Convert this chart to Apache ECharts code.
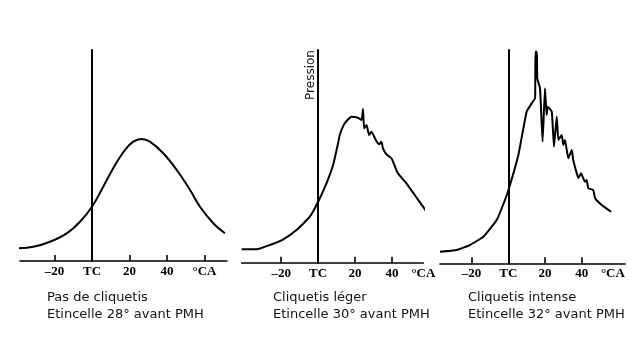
<!DOCTYPE html>
<html>
<head>
<meta charset="utf-8">
<script src="https://cdn.jsdelivr.net/npm/echarts@6/dist/echarts.min.js"></script>
<style>html,body{margin:0;padding:0;background:#fff;}#c{width:640px;height:355px;}</style>
</head>
<body>
<div id="c"></div>
<script>
// Crank angle (deg, 0 = TC) vs cylinder pressure (arbitrary units)
const noKnock = [[-40.2,12.7],[-31.3,14.3],[-22.4,19.3],[-13.5,27.7],[-6.4,39.3],[0,54.3],[6.0,74.3],[12.3,96],[17.6,111],[22,119.3],[26.5,122],[30.9,119.3],[38,107.7],[45.2,91],[52.3,71],[57.6,54.3],[64.7,37.7],[70.9,27.7]];
const lightKnock = [[-41.4,13.4],[-33.3,13.4],[-26.1,17.7],[-18.9,23.4],[-11.7,32.7],[-4.5,46],[0,61],[4.5,79.4],[8.1,97.7],[10.8,119.4],[11.7,127.7],[14.4,139.4],[18.1,146],[21.6,145],[23.5,142.7],[24.3,153.7],[24.9,134.4],[26.2,137.7],[27.6,127.7],[28.9,131],[31.2,122.7],[33.0,118.4],[34.3,121],[35.1,114.4],[37.0,108.4],[39.7,104.4],[43.2,89.4],[47.8,79.4],[52.3,67.7],[56.8,56],[61.3,44.4]];
const heavyKnock = [[-37.2,11.6],[-28.1,13.3],[-20.9,18.3],[-13.6,26.6],[-6.3,43.3],[-1.8,63.3],[0.4,75],[5.5,108.3],[10.0,151.6],[12.8,160],[14.6,165],[14.8,211.6],[15.6,211.6],[15.8,185],[17.3,175],[18.7,121.6],[20.0,175],[20.9,148.3],[21.5,156.6],[23.7,151.6],[24.9,116.6],[26.4,146.6],[27.3,123.3],[29.1,128.3],[30.0,118.3],[30.9,123.3],[32.7,105],[34.6,113.3],[35.4,103.3],[37.3,90],[38.2,85],[39.6,90],[41.8,81.6],[42.7,83.3],[43.6,75],[46.3,73.3],[47.3,65],[50.9,58.3],[56.0,51.6]];

const tickValues1 = [-20, 0, 20, 40, 60];
const tickValues23 = [-20, 0, 20, 40];
const labelValues1 = [-20, 0, 20, 40, 60];
const labelValues2 = [-20, 0, 20, 40, 57];
const labelValues3 = [-20, 0, 20, 40, 57];
const labelText = {'-20': '–20', '0': 'TC', '20': '20', '40': '40'};
const unitLabel = '°CA';
const yAxisName = 'Pression';

const captions = [
  'Pas de cliquetis\nEtincelle 28° avant PMH',
  'Cliquetis léger\nEtincelle 30° avant PMH',
  'Cliquetis intense\nEtincelle 32° avant PMH'
];

const chart = echarts.init(document.getElementById('c'), null, {renderer: 'canvas'});

const grids = [
  {left: 20, top: 50, width: 207, height: 211, outerBoundsMode: 'none'},
  {left: 241.7, top: 50, width: 181.7, height: 212.7, outerBoundsMode: 'none'},
  {left: 440, top: 50, width: 185, height: 213.3, outerBoundsMode: 'none'}
];
const xRanges = [[-38.4, 72], [-41.4, 57], [-37.2, 63.6]];
const yMax = [211, 212.7, 213.3];
const ticks = [tickValues1, tickValues23, tickValues23];
const labels = [labelValues1, labelValues2, labelValues3];
const datas = [noKnock, lightKnock, heavyKnock];
const smooths = [0.4, 0.15, 0.12];

function fmt(v) {
  const k = String(Math.round(v));
  return labelText[k] !== undefined ? labelText[k] : unitLabel;
}

const xAxes = [0,1,2].map(i => ({
  type: 'value', gridIndex: i, min: xRanges[i][0], max: xRanges[i][1],
  splitLine: {show: false},
  axisLine: {show: true, onZero: false, lineStyle: {color: '#000', width: 1.6}},
  axisTick: {show: true, inside: true, length: 6, customValues: ticks[i], lineStyle: {color: '#000', width: 1.6}},
  axisLabel: {show: true, customValues: labels[i], formatter: fmt, margin: 4, color: '#000',
    fontFamily: 'Liberation Serif', fontWeight: 'bold', fontSize: 13}
}));
const yAxes = [0,1,2].map(i => ({
  type: 'value', gridIndex: i, min: 0, max: yMax[i],
  splitLine: {show: false},
  axisLine: {show: true, onZero: true, lineStyle: {color: '#000', width: 2}},
  axisTick: {show: false}, axisLabel: {show: false}
}));

const series = [0,1,2].map(i => ({
  type: 'line', xAxisIndex: i, yAxisIndex: i, data: datas[i],
  showSymbol: false, symbol: 'none', clip: false,
  smooth: smooths[i],
  lineStyle: {color: '#000', width: 2}, z: 3
}));

const titleLefts = [47, 273, 468];
const titles = captions.map((t, i) => ({
  text: t, left: titleLefts[i], top: 289, padding: 0,
  textStyle: {fontFamily: 'DejaVu Sans', fontWeight: 'normal', fontSize: 13, lineHeight: 17, color: '#111'}
}));

chart.setOption({
  animation: false,
  backgroundColor: '#fff',
  title: titles,
  grid: grids,
  xAxis: xAxes,
  yAxis: yAxes,
  series: series,
  graphic: [{
    type: 'text', x: 311, y: 75, rotation: Math.PI / 2,
    style: {text: yAxisName, font: '12px "DejaVu Sans"', fill: '#111', align: 'center', verticalAlign: 'middle'}
  }]
});
</script>
</body>
</html>
